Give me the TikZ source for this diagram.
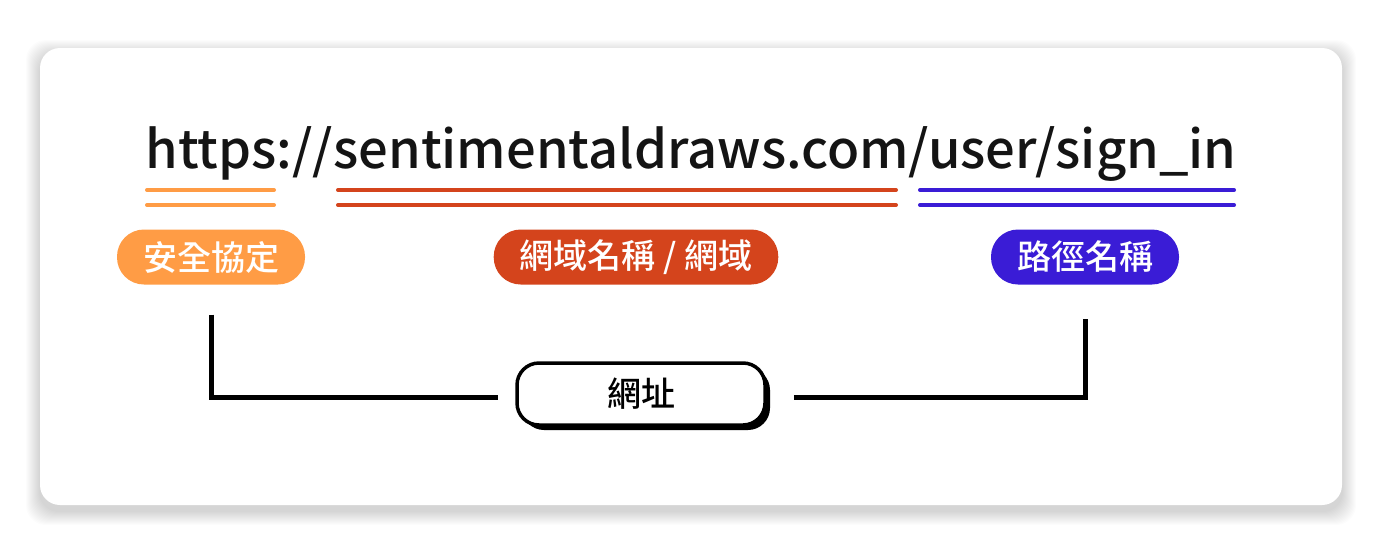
\documentclass[tikz,border=0pt]{standalone}
\usepackage{fontspec}
\setmainfont{Noto Sans CJK TC}
\newfontfamily\mediumfont{Noto Sans CJK TC Medium}
\usetikzlibrary{positioning,calc,shadows}
\definecolor{protocolorange}{HTML}{FF9C45}
\definecolor{domainred}{HTML}{D4441C}
\definecolor{pathblue}{HTML}{3A1CD6}
\definecolor{urlink}{HTML}{141414}

\begin{document}
\begin{tikzpicture}[x=1pt, y=-1pt,
    tag/.style={rectangle, rounded corners=27pt, minimum height=55pt, inner xsep=26pt, text=white, font=\fontsize{34}{34}\selectfont\mediumfont},
    rule/.style={line width=4pt, line cap=round},
    conn/.style={line width=5pt},
    urlbox/.style={rectangle, draw=black, line width=3.5pt, fill=white, rounded corners=22pt, minimum width=248pt, minimum height=62pt, font=\fontsize{34}{34}\selectfont\mediumfont, drop shadow={shadow xshift=5pt, shadow yshift=-5pt, fill=black, opacity=1}}
]
\useasboundingbox (0,0) rectangle (1388,549);

% Card with soft shadow
\foreach \i in {1,...,14}
    \fill[black, opacity=0.01, rounded corners=20pt] (40-\i,48-\i+6) rectangle (1342+\i,505+\i+6);
\fill[white, rounded corners=20pt] (40,48) rectangle (1342,505);

% Address
\node[font=\fontsize{52.5}{54}\selectfont\mediumfont, text=urlink, anchor=base] (url) at (691,168) {https://sentimentaldraws.com/user/sign\_in};

% Underlines
\foreach \y in {190,205} {
    \draw[rule, protocolorange] (147,\y) -- (274,\y);
    \draw[rule, domainred] (338,\y) -- (896,\y);
    \draw[rule, pathblue] (920,\y) -- (1234,\y);
}

% Parts
\node[tag, fill=protocolorange] (proto) at (211,257) {安全協定};
\node[tag, fill=domainred] (domain) at (636,257) {網域名稱 / 網域};
\node[tag, fill=pathblue] (path) at (1085,257) {路徑名稱};

% Whole
\node[urlbox] (addr) at (641,394) {網址};

\draw[conn] ([yshift=-30pt]proto.south) |- ([xshift=-17pt,yshift=-3pt]addr.west);
\draw[conn] ([xshift=27pt,yshift=-3pt]addr.east) -| ([yshift=-34pt]path.south);

\end{tikzpicture}
\end{document}
